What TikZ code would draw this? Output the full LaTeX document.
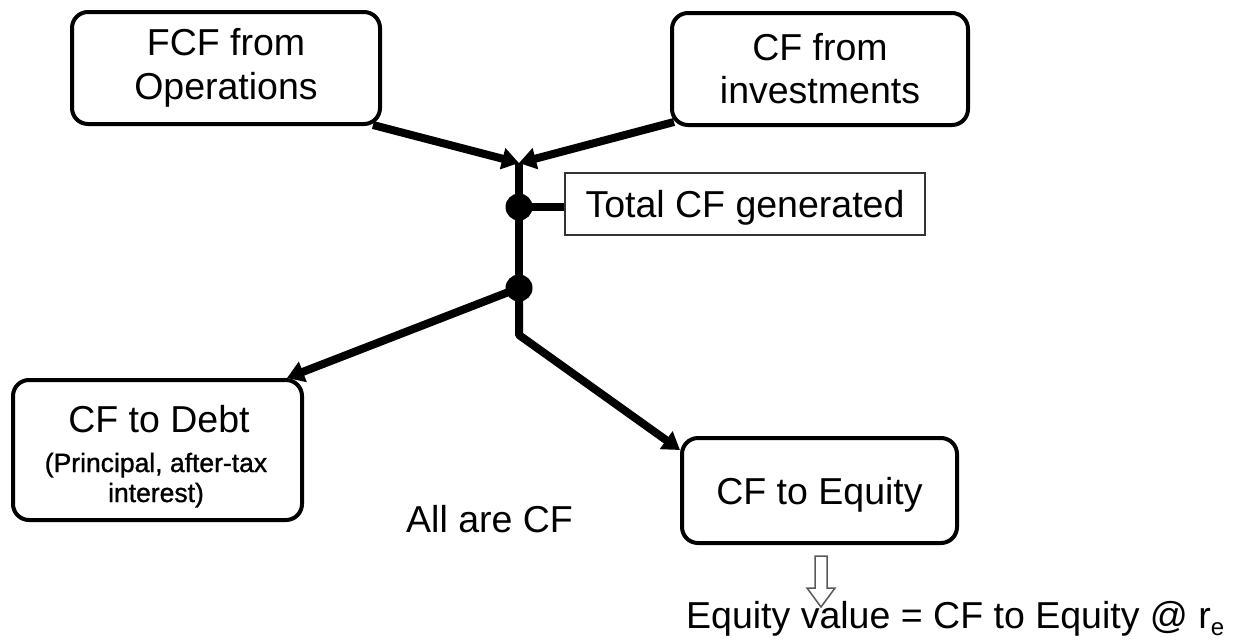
\documentclass[tikz,border=0pt]{standalone}
\usepackage{fontspec}
\setmainfont{Liberation Sans}
\newfontfamily\subfamily[FakeBold=1.2]{Liberation Sans}
\usetikzlibrary{arrows.meta}
\begin{document}
\begin{tikzpicture}[x=1pt,y=-1pt,
  bigfont/.style={font=\fontsize{37.5}{44}\selectfont},
  rbox/.style={draw, line width=4pt, rounded corners=16pt, inner sep=0pt, align=center, bigfont},
  conn/.style={line width=8pt},
  tipped/.style={-{Triangle[length=17pt,width=21pt]}},
  dot/.style={circle, fill=black, minimum size=27pt, inner sep=0pt},
  plainbox/.style={draw=black!80, line width=1.5pt, inner sep=0pt, bigfont},
  hollowarr/.style={draw=black!65, line width=1.5pt, fill=white, line join=miter},
  subfont/.style={font=\subfamily\fontsize{26.5}{30}\selectfont}
]
\useasboundingbox (0,0) rectangle (1244,643);

% boxes
\node[rbox, minimum width=308pt, minimum height=112pt] (fcf) at (226,68) {FCF from\\Operations};
\node[rbox, minimum width=296pt, minimum height=112pt] (inv) at (820,69) {CF from\\[-1pt]investments};
\node[plainbox, minimum width=360pt, minimum height=62pt, text height=27pt, text depth=0pt] (total) at (745,204) {Total CF generated};
\node[rbox, minimum width=289pt, minimum height=140pt] (debt) at (157.5,450) {};
\node[anchor=base, bigfont] (debtA) at (159,432) {CF to Debt};
\node[anchor=base, subfont] (debtB) at (156,472) {(Principal, after-tax};
\node[anchor=base, subfont] (debtC) at (156,502) {interest)};
\node[rbox, minimum width=275pt, minimum height=105pt, text height=27pt, text depth=0pt] (equity) at (819.5,490.5) {CF to Equity};

% free texts
\node[anchor=base west, bigfont, inner sep=0pt] (allcf) at (406,532) {All are CF};
\node[anchor=base west, bigfont, inner sep=0pt] (eqval) at (686,628) {Equity value = CF to Equity @ r\raisebox{-0.2em}{\fontsize{24}{24}\selectfont e}};

% junction structure
\coordinate (j) at (519,163);
\node[dot] (d1) at (519,207) {};
\node[dot] (d2) at (519,288) {};
\coordinate (bend) at (519,335);

\draw[conn, tipped] ([xshift=-9pt,yshift=1pt]fcf.south east) -- (j);
\draw[conn, tipped] ([xshift=4pt,yshift=5pt]inv.south west) -- (j);
\draw[conn] (j) -- (d1.center);
\draw[conn] (d1.center) -- (d1.center -| total.west);
\draw[conn] (d1.center) -- (d2.center);
\draw[conn, tipped] (d2.center) -- ([xshift=-17pt]debt.north east);
\draw[conn, tipped, line join=round] (d2.center) -- (bend) -- ([yshift=-14pt]equity.north west);

% hollow down arrow
\coordinate (ha) at (821,556);
\draw[hollowarr] (ha) ++(-6,0) -- ++(12,0) -- ++(0,32) -- ++(8,0) -- ++(-14,19) -- ++(-14,-19) -- ++(8,0) -- cycle;
\end{tikzpicture}
\end{document}
